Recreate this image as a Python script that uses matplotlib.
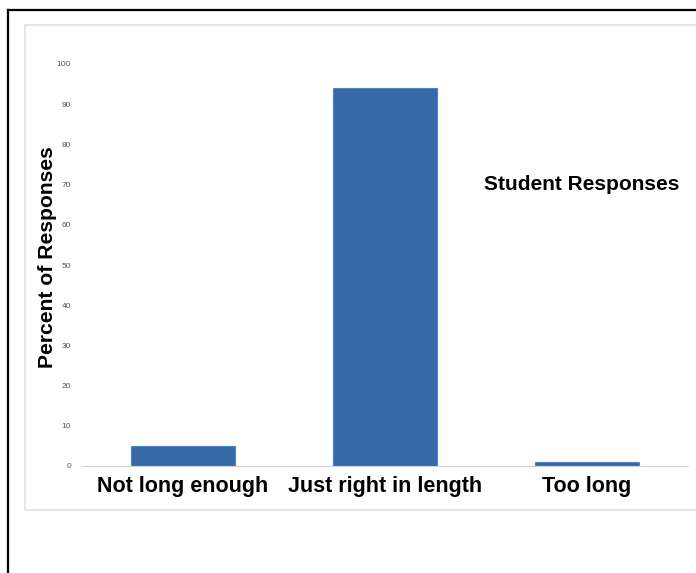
import matplotlib.pyplot as plt
from matplotlib.patches import Rectangle
from matplotlib.lines import Line2D

plt.rcParams['font.family'] = ['Liberation Sans', 'DejaVu Sans']

categories = ['Not long enough', 'Just right in length', 'Too long']
percents = [5, 94, 1]
yticks = [0, 10, 20, 30, 40, 50, 60, 70, 80, 90, 100]

W, H = 696, 573
fig = plt.figure(figsize=(W / 100, H / 100), dpi=100)

# outer black frame (cut off at right and bottom)
fig.add_artist(Line2D([8 / W, 8 / W], [0, 1 - 10 / H], color='black', lw=1.6))
fig.add_artist(Line2D([8 / W, 1], [1 - 10 / H, 1 - 10 / H], color='black', lw=1.6))
# light chart area border
fig.add_artist(Rectangle((25 / W, 1 - 510 / H), 1, (510 - 25) / H,
                         fill=False, edgecolor='#e2e2e2', lw=1.2))

ax = fig.add_axes([82 / W, 1 - 466 / H, 606 / W, 402 / H])
x = range(len(categories))
ax.bar(x, percents, width=0.51, color='#3769a9', edgecolor='#4a84c8', linewidth=0.8)

ax.set_xlim(-0.5, 2.5)
ax.set_ylim(0, 100)
ax.set_yticks(yticks)
ax.set_yticklabels([str(v) for v in yticks], fontsize=6, color='#555555')
ax.set_xticks(list(x))
ax.set_xticklabels(categories, fontsize=15.5, fontweight='bold')
ax.tick_params(axis='both', length=0)
ax.tick_params(axis='y', pad=8)
ax.tick_params(axis='x', pad=7)
for s in ['top', 'right', 'left']:
    ax.spines[s].set_visible(False)
ax.spines['bottom'].set_color('#d0d0d0')

fig.text(48 / W, 1 - 257 / H, 'Percent of Responses', fontsize=15.2,
         fontweight='bold', rotation=90, va='center', ha='center')
fig.text(484 / W, 1 - 184 / H, 'Student Responses', fontsize=15,
         fontweight='bold', va='center', ha='left')

fig.savefig('out.png', dpi=100)
